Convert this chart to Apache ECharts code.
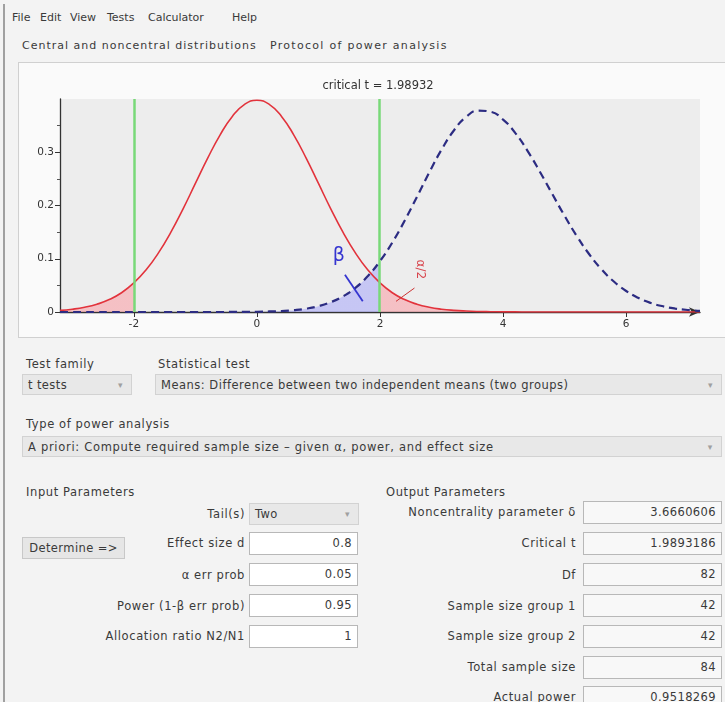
<!DOCTYPE html>
<html>
<head>
<meta charset="utf-8">
<script src="https://cdn.jsdelivr.net/npm/echarts@6/dist/echarts.min.js"></script>
<style>
  html, body { margin:0; padding:0; }
  body { width:725px; height:702px; overflow:hidden; background:#f3f3f3; position:relative;
         font-family:"DejaVu Sans","Noto Sans",sans-serif; font-size:11.5px; color:#3a3a3a; }
  .a { position:absolute; white-space:nowrap; line-height:16px; height:16px; letter-spacing:0.6px; }
  .m { font-size:11px; letter-spacing:0px; }
  .r { text-align:right; }
  .box { position:absolute; box-sizing:border-box; border:1px solid #b8b8b8; background:#fff;
         line-height:20px; padding:0 5px; white-space:nowrap; overflow:hidden; letter-spacing:0.4px; }
  .dd { background:#e8e8e8; border-color:#d2d2d2; }
  .dd .arr { position:absolute; right:8px; top:0; color:#a0a0a0; font-size:9px; }
  .out { background:#f8f8f8; text-align:right; }
  .in { text-align:right; }
  .btn { position:absolute; box-sizing:border-box; border:1px solid #c8c8c8; background:#e6e6e6;
         text-align:center; line-height:20px; letter-spacing:0.4px; }
</style>
</head>
<body>
<div style="position:absolute;left:3px;top:4px;width:2px;height:698px;background:#a0a0a0"></div>

<div class="a m" style="left:12px;top:10px">File</div>
<div class="a m" style="left:40px;top:10px">Edit</div>
<div class="a m" style="left:70px;top:10px">View</div>
<div class="a m" style="left:107px;top:10px">Tests</div>
<div class="a m" style="left:148px;top:10px">Calculator</div>
<div class="a m" style="left:232px;top:10px">Help</div>

<div class="a" style="left:22px;top:38px;font-size:11px;letter-spacing:1px">Central and noncentral distributions</div>
<div class="a" style="left:270px;top:38px;font-size:11px;letter-spacing:1.3px">Protocol of power analysis</div>

<div style="position:absolute;left:18px;top:62px;width:707px;height:276px;box-sizing:border-box;border:1px solid #d0d0d0;border-right:none;background:#fafafa"></div>
<div id="chart" style="position:absolute;left:0;top:62px;width:725px;height:278px"></div>

<div class="a" style="left:26px;top:356px">Test family</div>
<div class="a" style="left:158px;top:356px">Statistical test</div>
<div class="box dd" style="left:22px;top:374px;width:110px;height:21px">t tests<span class="arr">▾</span></div>
<div class="box dd" style="left:155px;top:374px;width:567px;height:21px;letter-spacing:0.5px">Means: Difference between two independent means (two groups)<span class="arr">▾</span></div>

<div class="a" style="left:26px;top:416px">Type of power analysis</div>
<div class="box dd" style="left:22px;top:436px;width:700px;height:21px;letter-spacing:0.7px">A priori: Compute required sample size – given α, power, and effect size<span class="arr">▾</span></div>

<div class="a" style="left:26px;top:484px">Input Parameters</div>
<div class="a r" style="left:75px;width:170px;top:506px">Tail(s)</div>
<div class="box dd" style="left:249px;top:503px;width:110px;height:22px">Two<span class="arr">▾</span></div>
<div class="btn" style="left:22px;top:537px;width:103px;height:22px">Determine =&gt;</div>
<div class="a r" style="left:75px;width:170px;top:535px">Effect size d</div>
<div class="box in" style="left:249px;top:532px;width:109px;height:23px">0.8</div>
<div class="a r" style="left:75px;width:170px;top:567px">α err prob</div>
<div class="box in" style="left:249px;top:563px;width:109px;height:23px">0.05</div>
<div class="a r" style="left:35px;width:210px;top:598px">Power (1-β err prob)</div>
<div class="box in" style="left:249px;top:594px;width:109px;height:23px">0.95</div>
<div class="a r" style="left:35px;width:210px;top:628px">Allocation ratio N2/N1</div>
<div class="box in" style="left:249px;top:625px;width:109px;height:23px">1</div>

<div class="a" style="left:386px;top:484px">Output Parameters</div>
<div class="a r" style="left:355px;width:221px;top:504px">Noncentrality parameter δ</div>
<div class="box out" style="left:583px;top:501px;width:139px;height:23px">3.6660606</div>
<div class="a r" style="left:355px;width:221px;top:535px">Critical t</div>
<div class="box out" style="left:583px;top:532px;width:139px;height:23px">1.9893186</div>
<div class="a r" style="left:355px;width:221px;top:567px">Df</div>
<div class="box out" style="left:583px;top:563px;width:139px;height:23px">82</div>
<div class="a r" style="left:355px;width:221px;top:598px">Sample size group 1</div>
<div class="box out" style="left:583px;top:594px;width:139px;height:23px">42</div>
<div class="a r" style="left:355px;width:221px;top:628px">Sample size group 2</div>
<div class="box out" style="left:583px;top:625px;width:139px;height:23px">42</div>
<div class="a r" style="left:355px;width:221px;top:659px">Total sample size</div>
<div class="box out" style="left:583px;top:656px;width:139px;height:23px">84</div>
<div class="a r" style="left:355px;width:221px;top:689px">Actual power</div>
<div class="box out" style="left:583px;top:686px;width:139px;height:23px">0.9518269</div>

<script>
// ---- data ----
const tValues = [-3.2,-3.0,-2.8,-2.6,-2.4,-2.2,-2.0,-1.8,-1.6,-1.4,-1.2,-1.0,-0.8,-0.6,-0.4,-0.2,0,
  0.2,0.4,0.6,0.8,1.0,1.2,1.4,1.6,1.8,2.0,2.2,2.4,2.6,2.8,3.0,3.2,3.4,3.6,3.8,4.0,4.2,4.4,4.6,
  4.8,5.0,5.2,5.4,5.6,5.8,6.0,6.2,6.4,6.6,6.8,7.0,7.2];
const centralDensity = [0.0031,0.0053,0.0089,0.0146,0.0233,0.0362,0.0546,0.0793,0.1110,0.1496,0.1938,0.2414,0.2889,0.3322,0.3673,0.3900,0.3977,
  0.3900,0.3673,0.3322,0.2889,0.2414,0.1938,0.1496,0.1110,0.0793,0.0546,0.0362,0.0233,0.0146,0.0089,0.0053,0.0031,0.0018,0.0010,0.0006,0.0003,0.0002,0.0001,0.0001,
  0,0,0,0,0,0,0,0,0,0,0,0,0];
const noncentralDensity = [0,0,0,0,0,0,0,0,0,0,0,0,0,0,0.0001,0.0003,0.0005,
  0.0010,0.0019,0.0035,0.0063,0.0110,0.0184,0.0295,0.0454,0.0672,0.0956,0.1305,0.1713,0.2161,0.2619,0.3048,0.3409,0.3664,0.3782,0.3759,0.3613,0.3360,0.3022,0.2630,
  0.2215,0.1805,0.1422,0.1085,0.0800,0.0572,0.0395,0.0264,0.0170,0.0107,0.0064,0.0038,0.0021];
const criticalT = 1.98932;
const xTickLabels = [-2, 0, 2, 4, 6];
const yTickLabels = [0, 0.1, 0.2, 0.3];
const titleText = 'critical t = 1.98932';
const betaLabel = 'β';
const alphaLabel = 'α/2';
// annotation anchors in data space
const betaAnchor = [1.33, 0.105];
const betaPointer = [[1.43, 0.070], [1.72, 0.020]];
const alphaAnchor = [2.66, 0.080];
const alphaPointer = [[2.56, 0.045], [2.26, 0.020]];

const pairs = (ys) => tValues.map((x, i) => [x, ys[i]]);

const chart = echarts.init(document.getElementById('chart'), null, {renderer: 'canvas'});
const RED = '#e2333c', BLUE = '#2c2c82', GREEN = '#78d978';
const PINK = 'rgba(255,130,140,0.42)', LAV = 'rgba(140,140,255,0.40)', NONE = 'rgba(255,255,255,0)';

chart.setOption({
  animation: false,
  backgroundColor: 'transparent',
  grid: { left: 60, right: 25, top: 37, bottom: 28, show: true, backgroundColor: '#ededed', borderWidth: 0 },
  xAxis: {
    type: 'value', min: -3.2, max: 7.2,
    axisLine: { lineStyle: { color: '#333', width: 1.3 }, symbol: ['none', 'arrow'], symbolSize: [7, 11] },
    axisTick: { customValues: xTickLabels, length: 5, lineStyle: { color: '#333' } },
    axisLabel: { customValues: xTickLabels, color: '#333', fontSize: 10.5, margin: 7, fontFamily: 'DejaVu Sans' },
    splitLine: { show: false }
  },
  yAxis: {
    type: 'value', min: 0, max: 0.4,
    axisLine: { show: true, onZero: false, lineStyle: { color: '#333', width: 1.3 } },
    axisTick: { customValues: yTickLabels, length: 5, lineStyle: { color: '#333' } },
    minorTick: { show: true, splitNumber: 2, length: 3, lineStyle: { color: '#555' } },
    axisLabel: { customValues: yTickLabels, color: '#333', fontSize: 10.5, margin: 6, fontFamily: 'DejaVu Sans' },
    splitLine: { show: false }
  },
  visualMap: [
    { type: 'piecewise', show: false, seriesIndex: 1, dimension: 0,
      pieces: [{ gte: -10, lt: -criticalT, color: PINK }, { gte: -criticalT, lte: criticalT, color: NONE }, { gt: criticalT, lte: 10, color: PINK }] },
    { type: 'piecewise', show: false, seriesIndex: 3, dimension: 0,
      pieces: [{ gte: -10, lt: criticalT, color: LAV }, { gte: criticalT, lte: 10, color: NONE }] }
  ],
  series: [
    { type: 'line', data: pairs(centralDensity), smooth: true, showSymbol: false, z: 4,
      lineStyle: { color: RED, width: 1.6 }, itemStyle: { color: RED },
      markLine: { symbol: 'none', silent: true, label: { show: false },
        lineStyle: { color: GREEN, width: 2.5, type: 'solid' },
        data: [{ xAxis: -criticalT }, { xAxis: criticalT }] } },
    { type: 'line', data: pairs(centralDensity), smooth: true, showSymbol: false, z: 2,
      lineStyle: { width: 0 }, areaStyle: { opacity: 1 } },
    { type: 'line', data: pairs(noncentralDensity), smooth: true, showSymbol: false, z: 5,
      lineStyle: { color: BLUE, width: 2.2, type: [8, 5] }, itemStyle: { color: BLUE } },
    { type: 'line', data: pairs(noncentralDensity), smooth: true, showSymbol: false, z: 2,
      lineStyle: { width: 0 }, areaStyle: { opacity: 1 } }
  ]
});

function px(p) { return chart.convertToPixel({ gridIndex: 0 }, p); }
const bA = px(betaAnchor), bP0 = px(betaPointer[0]), bP1 = px(betaPointer[1]);
const aA = px(alphaAnchor), aP0 = px(alphaPointer[0]), aP1 = px(alphaPointer[1]);
chart.setOption({
  graphic: [
    { type: 'text', x: 378, y: 24, style: { text: titleText, align: 'center', verticalAlign: 'middle',
      font: '11.5px "DejaVu Sans"', fill: '#333' } },
    { type: 'text', x: bA[0], y: bA[1], z: 10, style: { text: betaLabel, align: 'center', verticalAlign: 'middle',
      font: '19px "DejaVu Sans"', fill: '#3535d0' } },
    { type: 'line', z: 10, shape: { x1: bP0[0], y1: bP0[1], x2: bP1[0], y2: bP1[1] },
      style: { stroke: '#3535d0', lineWidth: 1.8 } },
    { type: 'text', x: aA[0], y: aA[1], z: 10, rotation: -Math.PI / 2,
      style: { text: alphaLabel, align: 'center', verticalAlign: 'middle', font: '12px "DejaVu Sans"', fill: '#d8454d' } },
    { type: 'line', z: 10, shape: { x1: aP0[0], y1: aP0[1], x2: aP1[0], y2: aP1[1] },
      style: { stroke: '#c33', lineWidth: 1 } }
  ]
});
</script>
</body>
</html>
